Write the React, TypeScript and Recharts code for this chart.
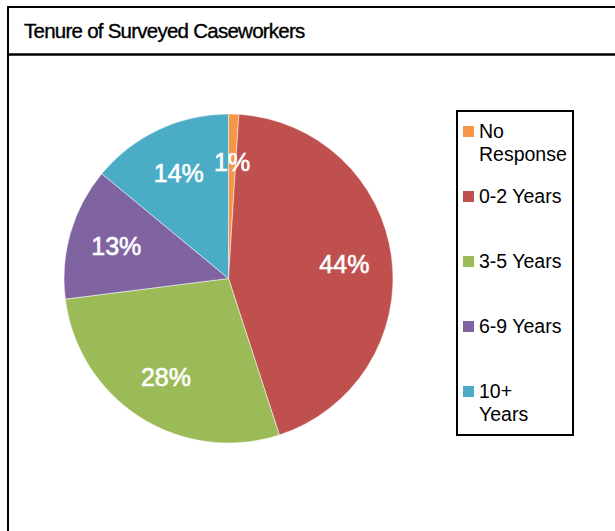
import React from "react";
import { PieChart, Pie, Cell, Legend } from "recharts";

const categories = ["No Response", "0-2 Years", "3-5 Years", "6-9 Years", "10+ Years"];
const percents = [1, 44, 28, 13, 14];
const colors = ["#F79646", "#C0504D", "#9BBB59", "#8064A2", "#4BACC6"];
const legendLines = [["No", "Response"], ["0-2 Years"], ["3-5 Years"], ["6-9 Years"], ["10+", "Years"]];
const title = "Tenure of Surveyed Caseworkers";

const data = categories.map((name, i) => ({ name, value: percents[i] }));

const FONT = '"Liberation Sans", Arial, sans-serif';
const RADIAN = Math.PI / 180;

const renderLabel = (props: any) => {
  const { cx, cy, midAngle, outerRadius, value } = props;
  const r = outerRadius * 0.71;
  const x = cx + r * Math.cos(-midAngle * RADIAN);
  const y = cy + r * Math.sin(-midAngle * RADIAN);
  return (
    <text
      x={x}
      y={y}
      fill="#ffffff"
      stroke="#ffffff"
      strokeWidth={0.6}
      textAnchor="middle"
      dominantBaseline="central"
      fontFamily={FONT}
      fontSize={25}
    >
      {`${value}%`}
    </text>
  );
};

const renderLegend = (props: any) => {
  const payload = props.payload || [];
  return (
    <div
      style={{
        width: 118,
        height: 326,
        border: "2px solid #000",
        boxSizing: "border-box",
        background: "#fff",
        position: "relative",
        fontFamily: FONT,
        fontSize: 19.5,
        color: "#000",
      }}
    >
      {payload.map((entry: any, i: number) => {
        const idx = categories.indexOf(entry.value);
        const k = idx >= 0 ? idx : i;
        return (
          <div key={k} style={{ position: "absolute", left: 0, top: 8 + 65 * k, width: 114 }}>
            <div
              style={{
                position: "absolute",
                left: 5,
                top: 6,
                width: 11,
                height: 11,
                background: colors[k],
              }}
            />
            <div style={{ position: "absolute", left: 21, top: 0, lineHeight: "23px", whiteSpace: "nowrap" }}>
              {legendLines[k].map((l, j) => (
                <div key={j}>{l}</div>
              ))}
            </div>
          </div>
        );
      })}
    </div>
  );
};

export default function App() {
  return (
    <div style={{ position: "absolute", left: 0, top: 0, width: 615, height: 531, background: "#fff", overflow: "hidden" }}>
      <svg width={615} height={531} style={{ position: "absolute", left: 0, top: 0 }}>
        <line x1={7} y1={7} x2={615} y2={7} stroke="#000" strokeWidth={2} />
        <line x1={8} y1={6} x2={8} y2={531} stroke="#000" strokeWidth={2} />
        <line x1={7} y1={54.5} x2={615} y2={54.5} stroke="#000" strokeWidth={2.5} />
        <text
          x={24}
          y={37.5}
          fontFamily={FONT}
          fontSize={20.5}
          letterSpacing={-0.75}
          fill="#000"
          stroke="#000"
          strokeWidth={0.35}
        >
          {title}
        </text>
      </svg>
      <div style={{ position: "absolute", left: 0, top: 0 }}>
        <PieChart width={615} height={531} margin={{ top: 0, right: 0, bottom: 0, left: 0 }}>
          <Pie
            data={data}
            dataKey="value"
            nameKey="name"
            cx={228.5}
            cy={278.5}
            outerRadius={164.5}
            startAngle={90}
            endAngle={-270}
            stroke="#ffffff"
            strokeWidth={0.5}
            label={renderLabel}
            labelLine={false}
            isAnimationActive={false}
          >
            {data.map((d, i) => (
              <Cell key={d.name} fill={colors[i]} />
            ))}
          </Pie>
          <Legend
            content={renderLegend}
            wrapperStyle={{ position: "absolute", left: 456, top: 110, width: 118, height: 326 }}
          />
        </PieChart>
      </div>
    </div>
  );
}
